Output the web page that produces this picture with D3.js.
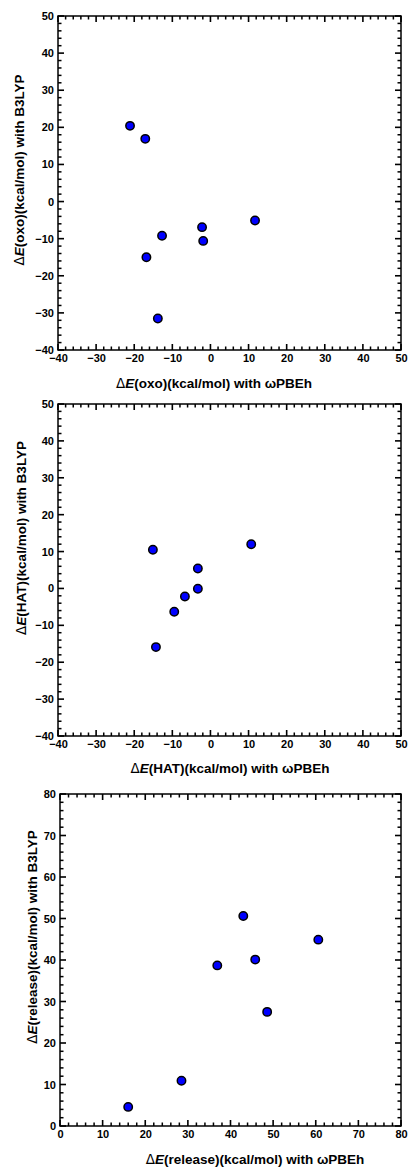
<!DOCTYPE html>
<html>
<head>
<meta charset="utf-8">
<script src="https://cdn.jsdelivr.net/npm/d3@7"></script>
<style>
  html, body { margin: 0; padding: 0; background: #fff; }
  svg { display: block; }
  text { font-family: "Liberation Sans", Arial, sans-serif; fill: #000; }
</style>
</head>
<body>
<svg id="chart" width="409" height="1168"></svg>
<script>
// ---------- data ----------
const oxoOmega = [-21.1, -17.1, 11.7, -2.2, -1.9, -12.7, -16.8, -13.8];
const oxoB3lyp = [20.4, 16.9, -5.1, -6.9, -10.6, -9.2, -15.0, -31.5];

const hatOmega = [-15.1, 10.7, -3.3, -3.3, -6.7, -9.5, -14.3];
const hatB3lyp = [10.5, 12.0, 5.4, -0.1, -2.2, -6.3, -15.9];

const relOmega = [43.0, 60.6, 45.8, 36.9, 48.6, 28.5, 16.0];
const relB3lyp = [50.6, 44.9, 40.1, 38.7, 27.5, 10.9, 4.6];

const ticksA = [-40, -30, -20, -10, 0, 10, 20, 30, 40, 50];
const ticksB = [0, 10, 20, 30, 40, 50, 60, 70, 80];

const names = ["oxo", "HAT", "release"];

// ---------- layout ----------
const panels = [
  { name: names[0], xs: oxoOmega, ys: oxoB3lyp, ticks: ticksA, dom: [-40, 50],
    box: { l: 58, r: 401, t: 16, b: 350 }, xlab: { x: 214, y: 388 }, ylab: { x: 24, y: 170 } },
  { name: names[1], xs: hatOmega, ys: hatB3lyp, ticks: ticksA, dom: [-40, 50],
    box: { l: 58, r: 401, t: 404, b: 736 }, xlab: { x: 230, y: 773 }, ylab: { x: 26, y: 538 } },
  { name: names[2], xs: relOmega, ys: relB3lyp, ticks: ticksB, dom: [0, 80],
    box: { l: 60, r: 401, t: 794, b: 1126 }, xlab: { x: 255, y: 1164 }, ylab: { x: 37, y: 937 } }
];

const svg = d3.select("#chart");
const fmt = d3.format("d");

function labelText(sel, name, method) {
  sel.append("tspan").attr("font-weight", "normal").attr("font-family", "DejaVu Sans").text("Δ");
  sel.append("tspan").attr("font-weight", "bold").attr("font-style", "italic").text("E");
  sel.append("tspan").attr("font-weight", "bold").text("(" + name + ")(kcal/mol) with " + method);
}

panels.forEach(p => {
  const { l, r, t, b } = p.box;
  const x = d3.scaleLinear().domain(p.dom).range([l, r]);
  const y = d3.scaleLinear().domain(p.dom).range([b, t]);
  const minor = [];
  for (let v = p.dom[0]; v <= p.dom[1]; v += 2) {
    if (Math.abs(v % 10) > 0.001) minor.push(v);
  }

  const g = svg.append("g");

  // frame
  g.append("rect").attr("x", l).attr("y", t).attr("width", r - l).attr("height", b - t)
    .attr("fill", "none").attr("stroke", "#000").attr("stroke-width", 1.5);

  // inward ticks on all four sides
  const addTicks = (vals, len, w) => {
    const segs = [];
    vals.forEach(v => {
      segs.push([x(v) - w / 2, b - len, w, len]);
      segs.push([x(v) - w / 2, t, w, len]);
      segs.push([l, y(v) - w / 2, len, w]);
      segs.push([r - len, y(v) - w / 2, len, w]);
    });
    g.append("g").selectAll("rect").data(segs).join("rect")
      .attr("x", d => d[0]).attr("y", d => d[1])
      .attr("width", d => d[2]).attr("height", d => d[3])
      .attr("fill", "#000");
  };
  addTicks(minor, 3.5, 1.5);
  addTicks(p.ticks, 6, 1.6);

  // tick labels via axes
  const xa = g.append("g").attr("transform", `translate(0,${b})`)
    .call(d3.axisBottom(x).tickValues(p.ticks).tickSize(0).tickPadding(4).tickFormat(fmt));
  xa.select(".domain").remove();
  xa.selectAll("text").attr("font-size", 11).attr("font-weight", "bold")
    .attr("font-family", "Liberation Sans, Arial, sans-serif").attr("fill", "#000");

  const ya = g.append("g").attr("transform", `translate(${l},0)`)
    .call(d3.axisLeft(y).tickValues(p.ticks).tickSize(0).tickPadding(4).tickFormat(fmt));
  ya.select(".domain").remove();
  ya.selectAll("text").attr("font-size", 11).attr("font-weight", "bold")
    .attr("font-family", "Liberation Sans, Arial, sans-serif").attr("fill", "#000");

  // points
  g.append("g").selectAll("circle").data(p.xs.map((v, i) => [v, p.ys[i]])).join("circle")
    .attr("cx", d => x(d[0])).attr("cy", d => y(d[1])).attr("r", 4.2)
    .attr("fill", "#0000ff").attr("stroke", "#000").attr("stroke-width", 1.5);

  // axis labels
  const xl = g.append("text").attr("x", p.xlab.x).attr("y", p.xlab.y)
    .attr("text-anchor", "middle").attr("font-size", 13.5);
  labelText(xl, p.name, "ωPBEh");

  const yl = g.append("text")
    .attr("transform", `translate(${p.ylab.x},${p.ylab.y}) rotate(-90)`)
    .attr("text-anchor", "middle").attr("font-size", 13.5);
  labelText(yl, p.name, "B3LYP");
});
</script>
</body>
</html>
